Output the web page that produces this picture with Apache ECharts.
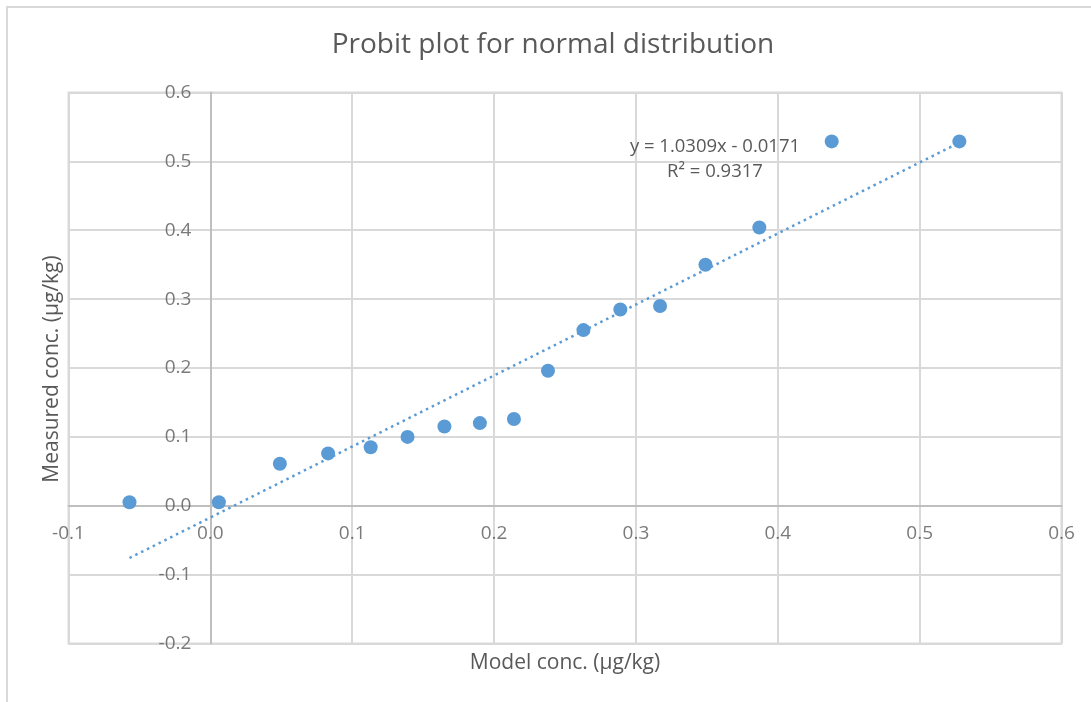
<!DOCTYPE html>
<html>
<head>
<meta charset="utf-8">
<title>Probit plot for normal distribution</title>
<script src="https://cdn.jsdelivr.net/npm/echarts@6/dist/echarts.min.js"></script>
<style>
  html, body { margin: 0; padding: 0; background: #ffffff; }
  #chart { width: 1091px; height: 702px; }
</style>
</head>
<body>
<div id="chart"></div>
<script>
// Model (probit) concentrations and the measured concentrations, in µg/kg
const modelConc = [-0.057, 0.006, 0.049, 0.083, 0.113, 0.139, 0.165, 0.190, 0.214,
                   0.238, 0.263, 0.289, 0.317, 0.349, 0.387, 0.438, 0.528];
const measuredConc = [0.005, 0.005, 0.061, 0.076, 0.085, 0.100, 0.115, 0.120, 0.126,
                      0.196, 0.255, 0.285, 0.290, 0.350, 0.404, 0.529, 0.529];

// Linear trendline coefficients
const slope = 1.0309;
const intercept = -0.0171;
const rSquared = 0.9317;

// Tick values; their labels sit along the zero lines
const xTickValues = [-0.1, 0.0, 0.1, 0.2, 0.3, 0.4, 0.5, 0.6];
const yTickValues = [-0.2, -0.1, 0.0, 0.1, 0.2, 0.3, 0.4, 0.5, 0.6];

const titleText = 'Probit plot for normal distribution';
const xTitle = 'Model conc. (µg/kg)';
const yTitle = 'Measured conc. (µg/kg)';

const points = modelConc.map((x, i) => [x, measuredConc[i]]);
const xLo = Math.min(...modelConc);
const xHi = Math.max(...modelConc);
const trend = [[xLo, slope * xLo + intercept], [xHi, slope * xHi + intercept]];
const sign = intercept < 0 ? '-' : '+';
const eqText = 'y = ' + slope.toFixed(4) + 'x ' + sign + ' ' + Math.abs(intercept).toFixed(4);
const r2Text = 'R² = ' + rSquared.toFixed(4);

const FONT = '"Open Sans", "Noto Sans", sans-serif';
const TEXT = '#595959';
const GRID = '#d9d9d9';
const AXIS = '#bfbfbf';
const BLUE = '#5b9bd5';

const chart = echarts.init(document.getElementById('chart'), null, { renderer: 'canvas' });

const grid = { left: 68.5, right: 29.5, top: 92.5, bottom: 58.5 };

chart.setOption({
  animation: false,
  backgroundColor: '#ffffff',
  grid: grid,
  xAxis: {
    type: 'value',
    min: xTickValues[0], max: xTickValues[xTickValues.length - 1], interval: 0.1,
    axisLine: { show: true, onZero: true, lineStyle: { color: AXIS, width: 2 } },
    axisTick: { show: false },
    axisLabel: { show: false },
    splitLine: { show: true, lineStyle: { color: GRID, width: 2 } }
  },
  yAxis: {
    type: 'value',
    min: yTickValues[0], max: yTickValues[yTickValues.length - 1], interval: 0.1,
    axisLine: { show: true, onZero: true, lineStyle: { color: AXIS, width: 2 } },
    axisTick: { show: false },
    axisLabel: { show: false },
    splitLine: { show: true, lineStyle: { color: GRID, width: 2 } }
  },
  graphic: [
    // chart frame
    { type: 'rect', silent: true, z: -10,
      shape: { x: 7, y: 7, width: 1300, height: 900 },
      style: { fill: null, stroke: GRID, lineWidth: 2 } },
    // outer border of the plotting area
    { type: 'rect', silent: true, z: -5,
      shape: { x: grid.left, y: grid.top, width: 1091 - grid.left - grid.right, height: 702 - grid.top - grid.bottom },
      style: { fill: null, stroke: GRID, lineWidth: 2 } },
    { type: 'text', silent: true,
      style: { x: 553, y: 45, text: titleText, fill: TEXT, font: '28px ' + FONT,
               textAlign: 'center', textVerticalAlign: 'middle' } },
    { type: 'text', silent: true,
      style: { x: 565, y: 663, text: xTitle, fill: TEXT, font: '21px ' + FONT,
               textAlign: 'center', textVerticalAlign: 'middle' } },
    { type: 'text', silent: true, x: 52, y: 369, rotation: Math.PI / 2,
      style: { x: 0, y: 0, text: yTitle, fill: TEXT, font: '21px ' + FONT,
               textAlign: 'center', textVerticalAlign: 'middle' } },
    // trendline equation and R²
    { type: 'text', silent: true, z: 10,
      style: { x: 715, y: 159, text: eqText + '\n' + r2Text, fill: TEXT, font: '18.5px ' + FONT,
               lineHeight: 25, textAlign: 'center', textVerticalAlign: 'middle' } }
  ],
  series: [
    {
      // x tick labels along y = 0
      type: 'scatter', silent: true, symbolSize: 0, z: 1, clip: false,
      data: xTickValues.map(v => [v, 0]),
      label: {
        show: true, position: 'bottom', distance: 18,
        color: TEXT, fontFamily: FONT, fontSize: 19,
        formatter: p => p.value[0].toFixed(1)
      }
    },
    {
      // y tick labels along x = 0
      type: 'scatter', silent: true, symbolSize: 0, z: 1, clip: false,
      data: yTickValues.map(v => [0, v]),
      label: {
        show: true, position: 'left', distance: 19,
        color: TEXT, fontFamily: FONT, fontSize: 19,
        formatter: p => p.value[1].toFixed(1)
      }
    },
    {
      name: 'Trendline',
      type: 'line',
      data: trend,
      symbol: 'none',
      silent: true,
      z: 3,
      lineStyle: { color: BLUE, width: 2.5, type: [2.5, 4] }
    },
    {
      name: 'Measured',
      type: 'scatter',
      data: points,
      symbol: 'circle',
      symbolSize: 14,
      z: 4,
      itemStyle: { color: BLUE, opacity: 1 }
    }
  ]
});
</script>
</body>
</html>
